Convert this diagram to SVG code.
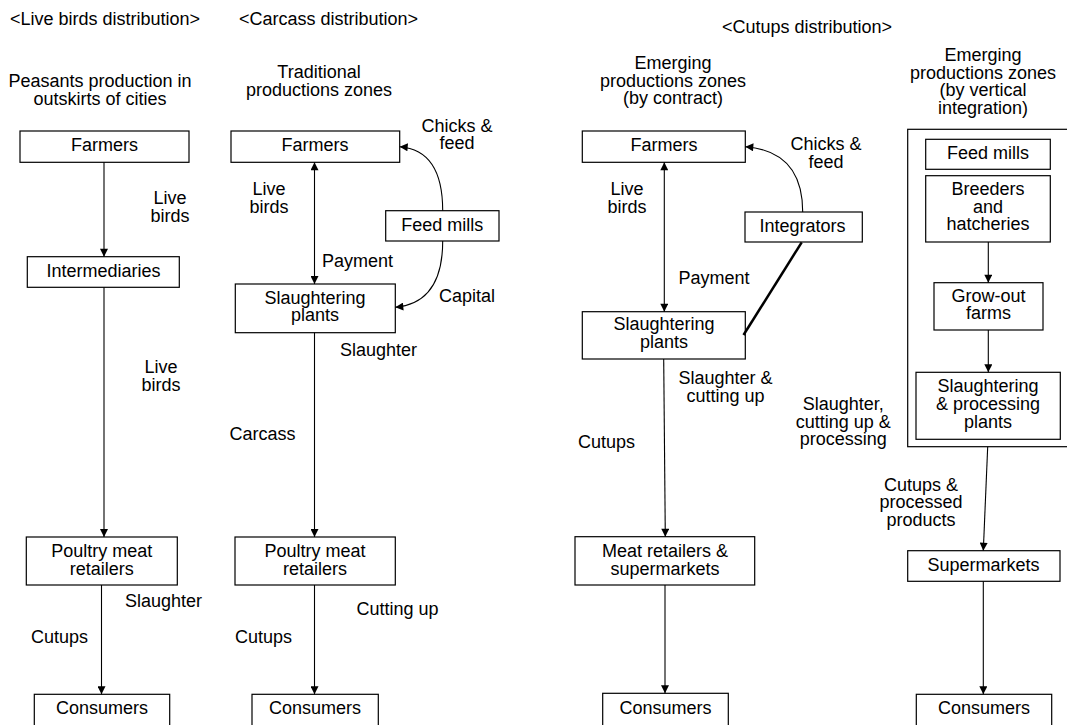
<svg xmlns="http://www.w3.org/2000/svg" width="1067" height="725" viewBox="0 0 1067 725">
<defs>
<marker id="ah" viewBox="0 0 10 10" refX="10" refY="5" markerWidth="9" markerHeight="8" markerUnits="userSpaceOnUse" orient="auto-start-reverse">
<path d="M0,0 L10,5 L0,10 z" fill="#000"/>
</marker>
<style>
text{font-family:"Liberation Sans",Arial,sans-serif;font-size:18px;fill:#000}
.m{text-anchor:middle}
rect{fill:#fff;stroke:#000;stroke-width:1.2}
rect.frame{fill:none}
.c line,.c path{stroke:#000;stroke-width:1.1;fill:none}
.c .thick{stroke-width:2.5}
.a{marker-end:url(#ah)}
.d{marker-start:url(#ah);marker-end:url(#ah)}
</style>
</defs>
<rect x="0" y="0" width="1067" height="725" style="stroke:none;fill:#fff"/>

<g id="headers">
<text x="10" y="25">&lt;Live birds distribution&gt;</text>
<text x="239" y="25">&lt;Carcass distribution&gt;</text>
<text x="722" y="33">&lt;Cutups distribution&gt;</text>
<text class="m" x="100" y="87">Peasants production in</text>
<text class="m" x="100" y="105">outskirts of cities</text>
<text class="m" x="319" y="78">Traditional</text>
<text class="m" x="319" y="96">productions zones</text>
<text class="m" x="673" y="69">Emerging</text>
<text class="m" x="673" y="87">productions zones</text>
<text class="m" x="673" y="104">(by contract)</text>
<text class="m" x="983" y="61">Emerging</text>
<text class="m" x="983" y="79">productions zones</text>
<text class="m" x="983" y="96">(by vertical</text>
<text class="m" x="983" y="114">integration)</text>
</g>

<g id="n-farmers1"><rect x="20" y="131" width="169" height="31.3"/><text class="m" x="104.5" y="151">Farmers</text></g>
<g id="n-intermediaries"><rect x="27.3" y="256.7" width="152" height="30.6"/><text class="m" x="103.5" y="277">Intermediaries</text></g>
<g id="n-retailers1"><rect x="26.3" y="537" width="151" height="48"/><text class="m" x="101.8" y="557.3">Poultry meat</text><text class="m" x="101.8" y="575">retailers</text></g>
<g id="n-consumers1"><rect x="34.3" y="694.3" width="135.4" height="40"/><text class="m" x="102" y="714.3">Consumers</text></g>

<g id="n-farmers2"><rect x="231" y="131" width="168.7" height="31.3"/><text class="m" x="315" y="151">Farmers</text></g>
<g id="n-feedmills2"><rect x="385.7" y="210.7" width="113.3" height="30.3"/><text class="m" x="442.3" y="231">Feed mills</text></g>
<g id="n-slaughter2"><rect x="235.3" y="284" width="160" height="48.7"/><text class="m" x="315" y="304">Slaughtering</text><text class="m" x="315" y="321.3">plants</text></g>
<g id="n-retailers2"><rect x="235" y="537" width="160.3" height="48"/><text class="m" x="315" y="557.3">Poultry meat</text><text class="m" x="315" y="575">retailers</text></g>
<g id="n-consumers2"><rect x="252" y="694.3" width="126.3" height="40"/><text class="m" x="315" y="714.3">Consumers</text></g>

<g id="n-farmers3"><rect x="582.3" y="131" width="163" height="31.3"/><text class="m" x="664" y="151">Farmers</text></g>
<g id="n-integrators"><rect x="745" y="212" width="117.3" height="30"/><text class="m" x="802.5" y="231.7">Integrators</text></g>
<g id="n-slaughter3"><rect x="582.3" y="311.7" width="163" height="47.3"/><text class="m" x="664" y="330">Slaughtering</text><text class="m" x="664" y="348">plants</text></g>
<g id="n-retailers3"><rect x="575" y="536.7" width="179.7" height="48.3"/><text class="m" x="665" y="557.3">Meat retailers &amp;</text><text class="m" x="665" y="575">supermarkets</text></g>
<g id="n-consumers3"><rect x="602.7" y="693.3" width="125.6" height="40"/><text class="m" x="665.5" y="714.3">Consumers</text></g>

<g id="n-integration"><rect class="frame" x="907.7" y="129.3" width="180" height="317.4"/></g>
<g id="n-feedmills4"><rect x="925.7" y="139.3" width="124.6" height="30"/><text class="m" x="988" y="159.3">Feed mills</text></g>
<g id="n-breeders"><rect x="925.7" y="175.7" width="124.6" height="66.3"/><text class="m" x="988" y="195">Breeders</text><text class="m" x="988" y="212.7">and</text><text class="m" x="988" y="230">hatcheries</text></g>
<g id="n-growout"><rect x="934" y="282.7" width="109" height="47.3"/><text class="m" x="988.5" y="301.7">Grow-out</text><text class="m" x="988.5" y="319.3">farms</text></g>
<g id="n-slaughter4"><rect x="916" y="372.3" width="144.3" height="67"/><text class="m" x="988" y="392.3">Slaughtering</text><text class="m" x="988" y="410">&amp; processing</text><text class="m" x="988" y="427.7">plants</text></g>
<g id="n-supermarkets"><rect x="907.7" y="550.7" width="152.3" height="30.6"/><text class="m" x="983.5" y="571">Supermarkets</text></g>
<g id="n-consumers4"><rect x="916.3" y="694.3" width="135.4" height="40"/><text class="m" x="984" y="714.3">Consumers</text></g>

<g class="c" id="connectors">
<line class="a" x1="104" y1="162.3" x2="104" y2="256.7"/>
<line class="a" x1="104" y1="287.3" x2="104" y2="537"/>
<line class="a" x1="101.5" y1="585" x2="101.5" y2="694.3"/>
<line class="d" x1="314.5" y1="162.3" x2="314.5" y2="284"/>
<line class="a" x1="314.5" y1="332.7" x2="314.5" y2="537"/>
<line class="a" x1="314.5" y1="585" x2="314.5" y2="694.3"/>
<path class="a" d="M442.7,210.7 Q442.7,150 399.7,146.7"/>
<path class="a" d="M442.7,241 Q442.7,303 395.3,307.3"/>
<line class="d" x1="664.3" y1="162.3" x2="664.3" y2="311.7"/>
<path class="a" d="M802.7,212 Q802.7,151 745.3,146.7"/>
<line class="thick" x1="801.7" y1="242.3" x2="743.5" y2="335"/>
<line class="a" x1="663.7" y1="359" x2="665.3" y2="536.7"/>
<line class="a" x1="665" y1="585" x2="665" y2="693.3"/>
<line class="a" x1="988.3" y1="242" x2="988.3" y2="282.7"/>
<line class="a" x1="988.3" y1="330" x2="988.3" y2="372.3"/>
<line class="a" x1="987.7" y1="446.7" x2="983.3" y2="550.7"/>
<line class="a" x1="983.3" y1="581.3" x2="983.3" y2="694.3"/>
</g>

<g id="labels">
<text class="m" x="170" y="204">Live</text>
<text class="m" x="170" y="222">birds</text>
<text class="m" x="161" y="373">Live</text>
<text class="m" x="161" y="391">birds</text>
<text x="125" y="607">Slaughter</text>
<text x="31" y="643">Cutups</text>
<text class="m" x="269" y="195">Live</text>
<text class="m" x="269" y="212.5">birds</text>
<text x="322" y="267">Payment</text>
<text class="m" x="457" y="131.7">Chicks &amp;</text>
<text class="m" x="457" y="149.3">feed</text>
<text x="439" y="301.7">Capital</text>
<text x="340" y="356">Slaughter</text>
<text x="229.5" y="439.5">Carcass</text>
<text x="356.5" y="615">Cutting up</text>
<text x="235" y="643">Cutups</text>
<text class="m" x="627" y="195">Live</text>
<text class="m" x="627" y="212.7">birds</text>
<text x="678.5" y="283.5">Payment</text>
<text class="m" x="826" y="150">Chicks &amp;</text>
<text class="m" x="826" y="167.7">feed</text>
<text class="m" x="725.5" y="384.3">Slaughter &amp;</text>
<text class="m" x="725.5" y="402.3">cutting up</text>
<text x="578" y="448.3">Cutups</text>
<text class="m" x="843.3" y="410">Slaughter,</text>
<text class="m" x="843.3" y="427.7">cutting up &amp;</text>
<text class="m" x="843.3" y="445.3">processing</text>
<text class="m" x="921" y="491">Cutups &amp;</text>
<text class="m" x="921" y="508.3">processed</text>
<text class="m" x="921" y="525.7">products</text>
</g>
</svg>
